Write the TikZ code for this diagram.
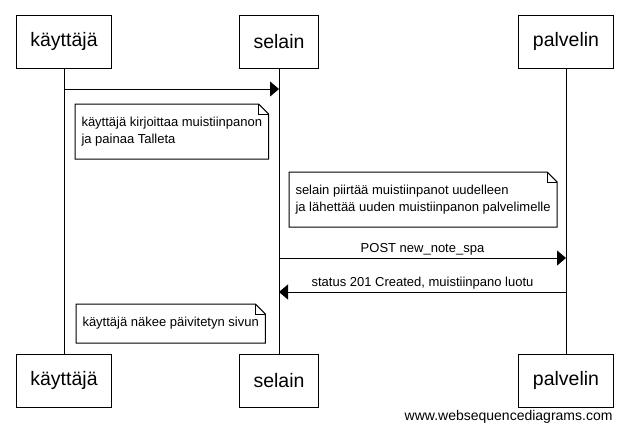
\documentclass[tikz,border=0pt]{standalone}
\usepackage{fontspec}
\setmainfont{Liberation Sans}
\usetikzlibrary{arrows.meta}
%Muistion kehys taitetulla kulmalla.
\newcommand{\kehys}[1]{%
  \draw (#1.south west) -- (#1.north west) -- ([xshift=-10pt]#1.north east)
    -- ([yshift=-10pt]#1.north east) -- (#1.south east) -- cycle;
  \draw ([xshift=-10pt]#1.north east) -- ([xshift=-10pt,yshift=-10pt]#1.north east)
    -- ([yshift=-10pt]#1.north east);}
\begin{document}
\begin{tikzpicture}[x=1pt, y=-1pt, line width=1pt, line join=miter, >={Triangle[length=9pt,width=15pt]},
  osapuoli/.style={draw, inner xsep=14pt, minimum height=53pt, font=\fontsize{19.5}{22}\selectfont},
  muistio/.style={anchor=north west, inner xsep=6pt, align=left, font=\fontsize{13}{16.5}\selectfont},
  viesti/.style={->},
  teksti/.style={above, inner sep=2pt, font=\fontsize{13}{15}\selectfont}]
  %Rajat.
  \useasboundingbox (0,0) rectangle (627,432);
  %Osapuolet.
  \node[osapuoli] (k1) at (64,41.5) {käyttäjä};
  \node[osapuoli] (s1) at (279,41.5) {selain};
  \node[osapuoli] (p1) at (566,41.5) {palvelin};
  \node[osapuoli] (k2) at (64,380.5) {käyttäjä};
  \node[osapuoli] (s2) at (279,380.5) {selain};
  \node[osapuoli] (p2) at (566,380.5) {palvelin};
  %Elämänviivat.
  \draw (k1) -- (k2);
  \draw (s1) -- (s2);
  \draw (p1) -- (p2);
  %Viestien korkeudet.
  \coordinate (r1) at (0,89);
  \coordinate (r2) at (0,258);
  \coordinate (r3) at (0,292);
  %Viestit.
  \draw[viesti] (k1 |- r1) -- (s1 |- r1);
  \draw[viesti] (s1 |- r2) -- node[teksti]{POST new\_note\_spa} (p1 |- r2);
  \draw[viesti] (p1 |- r3) -- node[teksti]{status 201 Created, muistiinpano luotu} (s1 |- r3);
  %Muistiot.
  \node[muistio, minimum height=54pt] (m1) at (75,104) {käyttäjä kirjoittaa muistiinpanon\\ja painaa Talleta};
  \kehys{m1}
  \node[muistio, minimum height=54pt] (m2) at (289,172) {selain piirtää muistiinpanot uudelleen\\ja lähettää uuden muistiinpanon palvelimelle};
  \kehys{m2}
  \node[muistio, minimum height=38pt] (m3) at (76,304) {käyttäjä näkee päivitetyn sivun};
  \kehys{m3}
  %Vesileima.
  \node[anchor=east, inner sep=0pt, font=\fontsize{14}{16}\selectfont] (wsd) at (613,417) {www.websequencediagrams.com};
\end{tikzpicture}
\end{document}
